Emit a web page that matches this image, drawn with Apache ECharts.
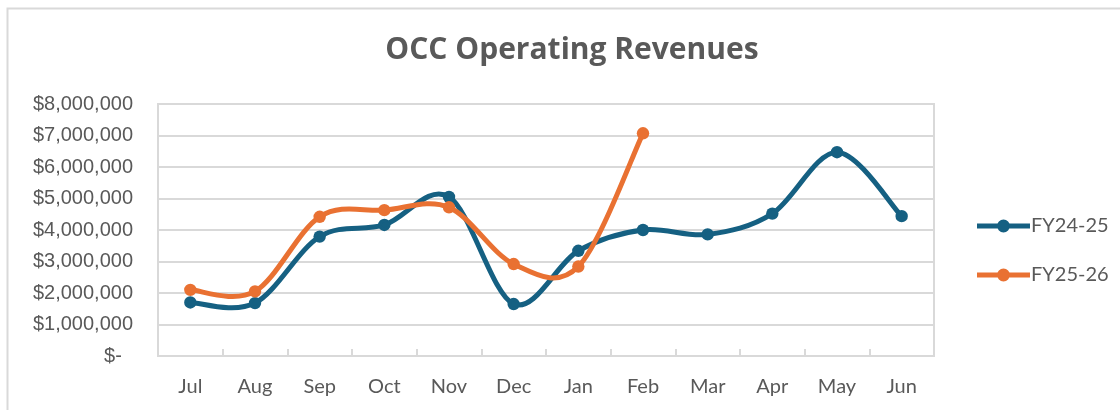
<!DOCTYPE html>
<html>
<head>
<meta charset="utf-8">
<script src="https://cdn.jsdelivr.net/npm/echarts@6/dist/echarts.min.js"></script>
<style>
  html, body { margin: 0; padding: 0; background: #fff; }
  #chart { width: 1120px; height: 410px; }
</style>
</head>
<body>
<div id="chart"></div>
<script>
// months of the fiscal year
var months = ['Jul', 'Aug', 'Sep', 'Oct', 'Nov', 'Dec', 'Jan', 'Feb', 'Mar', 'Apr', 'May', 'Jun'];
// revenues
var fy2425 = [1700000, 1680000, 3790000, 4160000, 5050000, 1650000, 3340000, 4000000, 3860000, 4520000, 6470000, 4440000];
var fy2526 = [2100000, 2050000, 4420000, 4630000, 4720000, 2920000, 2840000, 7070000];
var seriesNames = ['FY24-25', 'FY25-26'];

var blue = '#156082';
var orange = '#E97132';
var textColor = '#595959';
var gridColor = '#d9d9d9';

function money(v) {
  if (v === 0) return '$-  ';
  return '$' + v.toLocaleString('en-US');
}

// excel-like smoothed line: catmull-rom segment ending at each point, plus its marker
function smoothRenderer(values, color) {
  return function (params, api) {
    var i = params.dataIndex;
    var pt = function (k) {
      k = Math.max(0, Math.min(values.length - 1, k));
      return api.coord([k, values[k]]);
    };
    var p2 = pt(i);
    var children = [];
    if (i > 0) {
      var p0 = pt(i - 2), p1 = pt(i - 1), p3 = pt(i + 1);
      children.push({
        type: 'bezierCurve',
        shape: {
          x1: p1[0], y1: p1[1],
          cpx1: p1[0] + (p2[0] - p0[0]) / 6, cpy1: p1[1] + (p2[1] - p0[1]) / 6,
          cpx2: p2[0] - (p3[0] - p1[0]) / 6, cpy2: p2[1] - (p3[1] - p1[1]) / 6,
          x2: p2[0], y2: p2[1]
        },
        style: { stroke: color, lineWidth: 5, fill: null, lineCap: 'round' }
      });
    }
    children.push({
      type: 'circle',
      shape: { cx: p2[0], cy: p2[1], r: 6.2 },
      style: { fill: color }
    });
    return { type: 'group', children: children };
  };
}

function indexed(values) {
  return values.map(function (v, i) { return [i, v]; });
}

var legendIcon = 'path://M0,5L53,5L53,10L0,10Z M20,7.5A6.5,6.5 0 1 1 33,7.5A6.5,6.5 0 1 1 20,7.5Z';

var myChart = echarts.init(document.getElementById('chart'));

var option = {
  animation: false,
  title: {
    text: 'OCC Operating Revenues',
    left: 567,
    textAlign: 'center',
    top: 30,
    textStyle: { fontFamily: 'Open Sans', fontWeight: 'bold', fontSize: 30, color: textColor }
  },
  graphic: [{
    type: 'rect',
    shape: { x: 7.5, y: 8.5, width: 1200, height: 500 },
    style: { fill: 'none', stroke: '#d9d9d9', lineWidth: 2 },
    silent: true
  }],
  legend: {
    orient: 'vertical',
    left: 972,
    top: 211,
    itemWidth: 53,
    itemHeight: 14,
    itemGap: 29,
    textStyle: { fontFamily: 'Lato', fontSize: 20, color: textColor, padding: [0, 0, 0, -4] },
    data: [
      { name: seriesNames[0], icon: legendIcon },
      { name: seriesNames[1], icon: legendIcon }
    ]
  },
  grid: {
    left: 158, right: 186, top: 104, bottom: 54,
    show: true, borderColor: gridColor, borderWidth: 2
  },
  xAxis: {
    type: 'category',
    data: months,
    boundaryGap: true,
    axisLine: { lineStyle: { color: gridColor, width: 2 } },
    axisTick: { show: true, inside: true, length: 7, lineStyle: { color: gridColor, width: 2 } },
    axisLabel: { margin: 21, fontFamily: 'Lato', fontSize: 20, color: textColor }
  },
  yAxis: {
    type: 'value',
    min: 0,
    max: 8000000,
    interval: 1000000,
    axisLine: { show: true, lineStyle: { color: gridColor, width: 2 } },
    axisTick: { show: false },
    splitLine: { lineStyle: { color: gridColor, width: 2 } },
    axisLabel: { margin: 25, fontFamily: 'Liberation Sans', fontSize: 20, color: textColor, formatter: money }
  },
  series: [{
    name: seriesNames[0],
    type: 'custom',
    data: indexed(fy2425),
    encode: { x: 0, y: 1 },
    itemStyle: { color: blue },
    renderItem: smoothRenderer(fy2425, blue)
  }, {
    name: seriesNames[1],
    type: 'custom',
    data: indexed(fy2526),
    encode: { x: 0, y: 1 },
    itemStyle: { color: orange },
    renderItem: smoothRenderer(fy2526, orange)
  }]
};

myChart.setOption(option);
</script>
</body>
</html>
